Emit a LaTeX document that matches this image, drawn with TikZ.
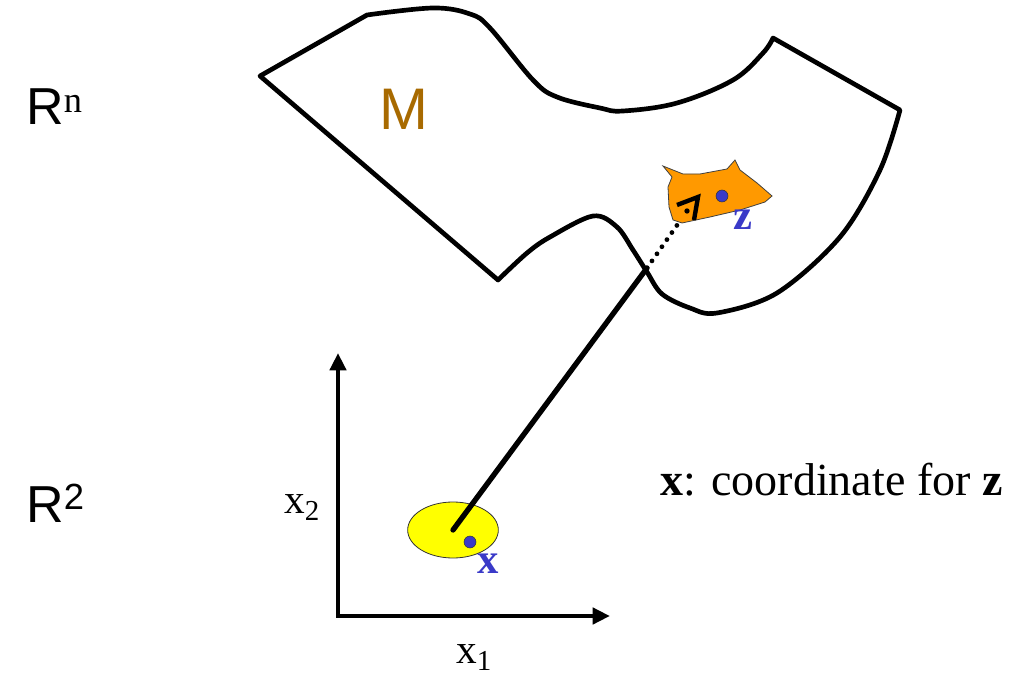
\documentclass[tikz,border=0pt]{standalone}
\usepackage{fontspec}
\setmainfont{Liberation Serif}
\newfontfamily\spacefont{Liberation Sans}
\usetikzlibrary{arrows.meta,shapes.geometric}

\definecolor{patchorange}{HTML}{FF9900}
\definecolor{chartyellow}{HTML}{FFFF00}
\definecolor{pointblue}{HTML}{3A3AC8}
\definecolor{manifoldbrown}{HTML}{A86A00}

\tikzset{
  outline/.style={line width=3.5pt, line join=round},
  axis/.style={-{Triangle[length=13pt,width=12pt]}, line width=3.3pt},
  point/.style={circle, fill=pointblue, draw=black!80, line width=0.4pt, minimum size=9pt, inner sep=0pt},
  pointlabel/.style={text=pointblue, font=\fontsize{32}{36}\selectfont\bfseries, inner sep=0pt},
  spacelabel/.style={font=\spacefont\fontsize{39}{44}\selectfont, inner sep=0pt, anchor=base west},
  axislabel/.style={font=\fontsize{31}{36}\selectfont, inner sep=0pt, anchor=base west}
}

\begin{document}
\begin{tikzpicture}[x=0.75pt, y=-0.75pt]
    \useasboundingbox (0,0) rectangle (1016,680);

    % Spaces
    \node[spacelabel] (rn) at (26,125) {R\textsuperscript{\rmfamily n}};
    \node[spacelabel] (r2) at (26,522) {R\textsuperscript{2}};

    % Manifold M in R^n
    \draw[outline] (260,76) -- (367,15)
      -- plot[smooth, tension=0.6] coordinates {(367,15) (433,8) (470,14) (490,28) (533,80) (557,97) (600,108) (623,111) (677,103) (733,80) (763,53) (773,38)}
      -- (900,110)
      -- plot[smooth, tension=0.55] coordinates {(900,110) (880,170) (840,237) (777,293) (717,313) (690,308) (662,294) (647,272) (633,250) (617,227) (593,216) (550,237) (527,253) (498,280)}
      -- cycle;
    \node[font=\spacefont\fontsize{44}{48}\selectfont, text=manifoldbrown, inner sep=0pt, anchor=base] (mlabel) at (404,130) {M};

    % Patch around z
    \filldraw[patchorange, draw=black!75, line width=0.6pt] (663,166) -- (683,174) -- (700,174) -- (727,169)
      -- (735,160) -- (740,170) -- (757,183) -- (772,196) -- (765,202) -- (740,210) -- (710,217)
      -- (682,223) -- (673,220) -- (669,207) -- (668,187) -- (672,177) -- cycle;
    \node[point] (zpt) at (722,196) {};
    \node[pointlabel, anchor=base west] (zlabel) at (733,230) {z};

    % Projection marker
    \draw[line width=3.3pt, line join=miter] (677,205) -- (698,197) -- (694,220);
    \fill (687,211) circle (2pt);

    % Chart in R^2
    \draw[axis] (338,617) -- (338,353);
    \draw[axis] (336,616) -- (610,616);
    \node[axislabel] (x2) at (284,513) {x\textsubscript{2}};
    \node[axislabel] (x1) at (456,663) {x\textsubscript{1}};
    \node[ellipse, fill=chartyellow, draw=black!80, line width=0.6pt, minimum width=68pt, minimum height=42pt] (chart) at (453,530) {};
    \node[point] (xpt) at (470,542) {};
    \node[pointlabel, anchor=base west] (xlabel) at (477,573) {x};

    % Map between chart and patch
    \coordinate (cross) at (647,268);
    \coordinate (foot) at (680,221);
    \draw[line width=4pt, line cap=round] (chart.center) -- (cross);
    \draw[line width=3.6pt, line cap=round, dash pattern=on 0pt off 6.5pt] (cross) -- (foot);

    % Caption
    \node[font=\fontsize{34.5}{40}\selectfont, inner sep=0pt, anchor=base west] (caption) at (660,495) {\textbf{x}: coordinate for \textbf{z}};
\end{tikzpicture}
\end{document}
